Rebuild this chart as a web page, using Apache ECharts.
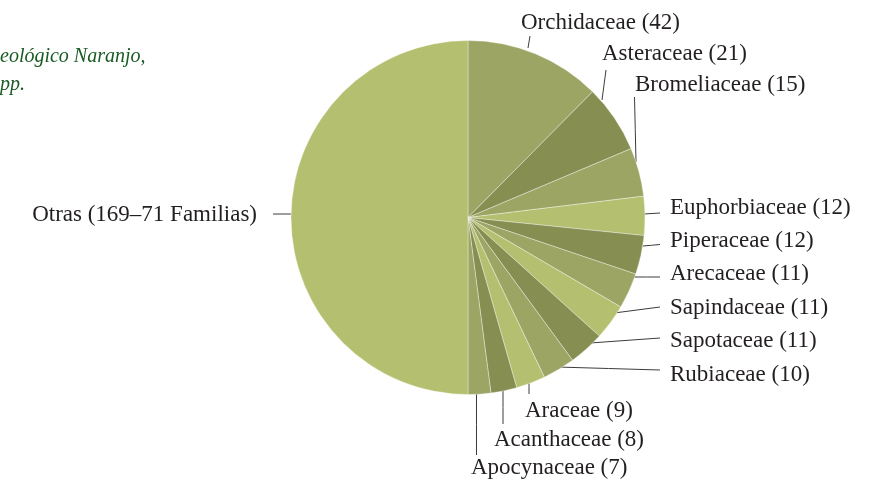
<!DOCTYPE html>
<html>
<head>
<meta charset="utf-8">
<script src="https://cdn.jsdelivr.net/npm/echarts@6/dist/echarts.min.js"></script>
<style>html,body{margin:0;padding:0;background:#fff;}#c{width:872px;height:481px;}</style>
</head>
<body>
<div id="c"></div>
<script>
const families = ['Orchidaceae','Asteraceae','Bromeliaceae','Euphorbiaceae','Piperaceae','Arecaceae','Sapindaceae','Sapotaceae','Rubiaceae','Araceae','Acanthaceae','Apocynaceae','Otras'];
const counts = [42,21,15,12,12,11,11,11,10,9,8,7,169];
const labelNotes = ['','','','','','','','','','','','','–71 Familias'];
const titleLines = ['eológico Naranjo,', 'pp.'];

const MED = '#9ca564', DARK = '#868e52', LIGHT = '#b5bf70';
const sliceColors = [MED, DARK, MED, LIGHT, DARK, MED, LIGHT, DARK, MED, LIGHT, DARK, MED, LIGHT];

// label anchor layout: [x, y, align]
const labelPos = [
  [521, 23, 'left'], [602, 54, 'left'], [635, 85, 'left'],
  [670, 208, 'left'], [670, 241, 'left'], [670, 274, 'left'],
  [670, 308, 'left'], [670, 341, 'left'], [670, 375, 'left'],
  [525, 411, 'left'], [494, 440, 'left'], [471, 468, 'left'],
  [257, 215, 'right']
];
// leader lines: [start(on pie), end(near label)]
const leader = [
  [[528,48],[530,36]], [[602,100],[606,70]], [[636,162],[634.5,97]],
  [[644,214],[660,213]], [[643,246],[660,244.5]], [[633,277],[660,277]],
  [[614,313],[660,307]], [[590,343],[660,338]], [[557,367],[660,370]],
  [[529,379],[529,394]], [[503,391],[503,424]], [[476.5,394],[476.5,455]],
  [[273,214],[291,214]]
];

const chart = echarts.init(document.getElementById('c'), null, {renderer: 'canvas'});
chart.setOption({
  animation: false,
  graphic: [
    {type: 'text', left: 0, top: 47, style: {text: titleLines[0], font: 'italic 20px "Liberation Serif"', fill: '#1a5a24'}},
    {type: 'text', left: 0, top: 75, style: {text: titleLines[1], font: 'italic 20px "Liberation Serif"', fill: '#1a5a24'}}
  ],
  series: [{
    type: 'pie',
    center: [468, 217.5],
    radius: 177,
    startAngle: 90,
    clockwise: true,
    avoidLabelOverlap: false,
    itemStyle: {borderColor: 'rgba(255,255,255,0.45)', borderWidth: 0.8},
    label: {
      show: true,
      position: 'outside',
      fontFamily: '"Liberation Serif", serif',
      fontSize: 23,
      color: '#231f20',
      formatter: p => `${p.name} (${p.value}${labelNotes[p.dataIndex]})`
    },
    labelLine: {show: true, lineStyle: {color: '#3c3c3c', width: 1}},
    labelLayout: p => {
      const lp = labelPos[p.dataIndex];
      const ln = leader[p.dataIndex];
      const mid = [(ln[0][0]+ln[1][0])/2, (ln[0][1]+ln[1][1])/2];
      return {x: lp[0], y: lp[1], align: lp[2], verticalAlign: 'middle', labelLinePoints: [ln[0], mid, ln[1]]};
    },
    emphasis: {disabled: true},
    data: families.map((f, i) => ({name: f, value: counts[i], itemStyle: {color: sliceColors[i]}}))
  }]
});
</script>
</body>
</html>
